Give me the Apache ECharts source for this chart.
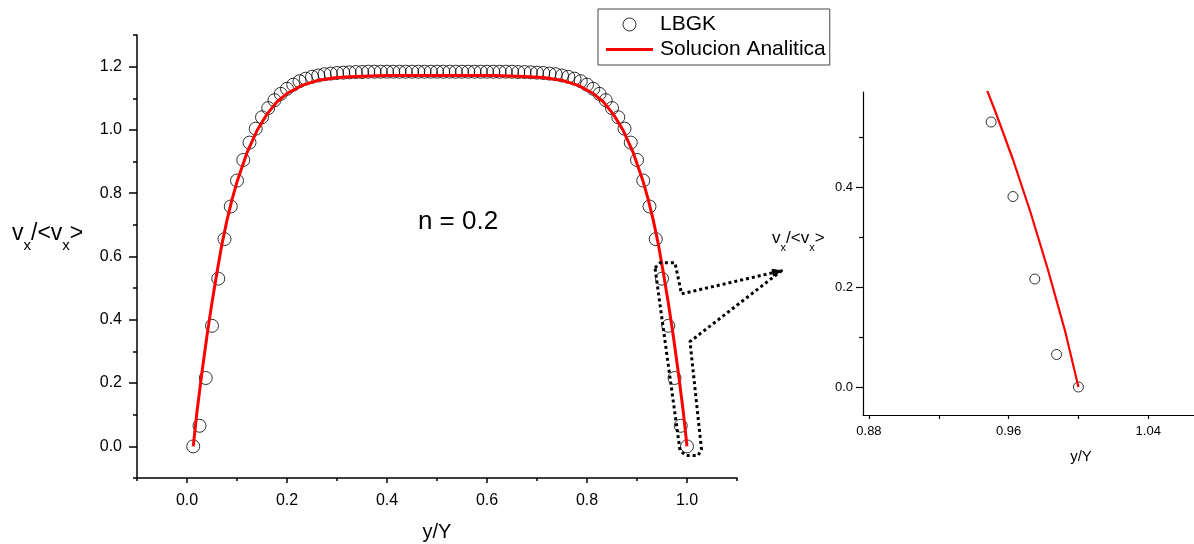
<!DOCTYPE html>
<html><head><meta charset="utf-8">
<script src="https://cdn.jsdelivr.net/npm/echarts@6/dist/echarts.min.js"></script>
<style>html,body{margin:0;padding:0;background:#fff}#c{width:1194px;height:544px}</style>
</head><body><div id="c"></div>
<script>
// ---- data ----
const lbgkX = [0.0125,0.025,0.0375,0.05,0.0625,0.075,0.0875,0.1,0.1125,0.125,0.1375,0.15,0.1625,0.175,0.1875,0.2,0.2125,0.225,0.2375,0.25,0.2625,0.275,0.2875,0.3,0.3125,0.325,0.3375,0.35,0.3625,0.375,0.3875,0.4,0.4125,0.425,0.4375,0.45,0.4625,0.475,0.4875,0.5,0.5125,0.525,0.5375,0.55,0.5625,0.575,0.5875,0.6,0.6125,0.625,0.6375,0.65,0.6625,0.675,0.6875,0.7,0.7125,0.725,0.7375,0.75,0.7625,0.775,0.7875,0.8,0.8125,0.825,0.8375,0.85,0.8625,0.875,0.8875,0.9,0.9125,0.925,0.9375,0.95,0.9625,0.975,0.9875,1.0];
const lbgkV = [0,0.065,0.216,0.381,0.530,0.655,0.758,0.840,0.905,0.960,1.004,1.040,1.069,1.094,1.114,1.130,1.143,1.154,1.162,1.168,1.172,1.176,1.178,1.180,1.181,1.182,1.183,1.183,1.184,1.184,1.184,1.184,1.184,1.184,1.184,1.184,1.184,1.184,1.184,1.184,
1.184,1.184,1.184,1.184,1.184,1.184,1.184,1.184,1.184,1.184,1.184,1.184,1.183,1.183,1.182,1.181,1.180,1.178,1.176,1.172,1.168,1.162,1.154,1.143,1.130,1.114,1.094,1.069,1.040,1.004,0.960,0.905,0.840,0.758,0.655,0.530,0.381,0.216,0.065,0];
const anaX = [0.0125,0.02,0.03,0.04,0.05,0.06,0.07,0.08,0.09,0.10,0.12,0.14,0.16,0.18,0.20,0.23,0.26,0.30,0.35,0.40,0.45,0.50625,0.5625,0.6125,0.6625,0.7125,0.7525,0.7825,0.8125,0.8325,0.8525,0.8725,0.8925,0.9125,0.9225,0.9325,0.9425,0.9525,0.9625,0.9725,0.9825,0.9925,1.0];
const anaV = [0,0.110,0.235,0.350,0.455,0.550,0.640,0.715,0.780,0.836,0.928,0.998,1.050,1.089,1.115,1.141,1.156,1.166,1.170,1.172,1.172,1.172,1.172,1.172,1.170,1.166,1.156,1.141,1.115,1.089,1.050,0.998,0.928,0.836,0.780,0.715,0.640,0.550,0.455,0.350,0.235,0.110,0];

const mainXTicks = [0,0.2,0.4,0.6,0.8,1.0];
const mainXMinor = [-0.1,0.1,0.3,0.5,0.7,0.9,1.1];
const mainYTicks = [0,0.2,0.4,0.6,0.8,1.0,1.2];
const mainYMinor = [-0.1,0.1,0.3,0.5,0.7,0.9,1.1,1.3];
const insetXTicks = [0.88,0.96,1.04];
const insetXMinor = [0.92,1.00];
const insetYTicks = [0,0.2,0.4];
const insetYMinor = [0.1,0.3,0.5];
// callout outline, in main-plot data units
const calloutPath = [[0.936,0.564],[0.946,0.580],[0.976,0.580],[0.989,0.482],[1.189,0.555],[1.006,0.331],[1.029,-0.010],[1.022,-0.029],[0.998,-0.029],[0.986,-0.013]];

const FONT = '"Liberation Sans", Arial, sans-serif';
const chart = echarts.init(document.getElementById('c'), null, {renderer:'canvas'});

function axis(o){
  return {
    type:'value', gridIndex:o.grid, min:o.min, max:o.max, position:o.pos,
    axisLine:{show:o.major, onZero:false, lineStyle:{color:'#000', width:o.lw}},
    axisTick:{show:true, inside:false, length:o.tl, customValues:o.ticks, lineStyle:{color:'#000', width:o.lw}},
    axisLabel:{show:o.major, customValues:o.ticks, margin:o.margin, color:'#000', fontSize:o.fs, fontFamily:FONT,
      formatter:v=>v.toFixed(o.dec)},
    splitLine:{show:false}, minorTick:{show:false}, splitArea:{show:false},
    name:o.name||'', nameLocation:'middle', nameGap:o.nameGap||0,
    nameTextStyle:{color:'#000', fontSize:20, fontFamily:FONT}
  };
}

const xAxes = [
  axis({grid:0,min:-0.1,max:1.1,pos:'bottom',major:true,lw:1.5,tl:5,ticks:mainXTicks,margin:15,fs:16,dec:1,name:'y/Y',nameGap:44}),
  axis({grid:0,min:-0.1,max:1.1,pos:'bottom',major:false,lw:1.5,tl:3,ticks:mainXMinor}),
  axis({grid:1,min:0.8766,max:1.0662,pos:'bottom',major:true,lw:1.2,tl:4,ticks:insetXTicks,margin:10,fs:13,dec:2}),
  axis({grid:1,min:0.8766,max:1.0662,pos:'bottom',major:false,lw:1.2,tl:4,ticks:insetXMinor})
];
const yAxes = [
  axis({grid:0,min:-0.1,max:1.3,pos:'left',major:true,lw:1.5,tl:8,ticks:mainYTicks,margin:15,fs:16,dec:1}),
  axis({grid:0,min:-0.1,max:1.3,pos:'left',major:false,lw:1.5,tl:4,ticks:mainYMinor}),
  axis({grid:1,min:-0.056,max:0.59,pos:'left',major:true,lw:1.2,tl:7,ticks:insetYTicks,margin:10,fs:13,dec:1}),
  axis({grid:1,min:-0.056,max:0.59,pos:'left',major:false,lw:1.2,tl:4,ticks:insetYMinor})
];

const lbgkData = lbgkX.map((x,i)=>[x,lbgkV[i]]);
const anaData = anaX.map((x,i)=>[x,anaV[i]]);

chart.setOption({
  animation:false,
  backgroundColor:'#fff',
  grid:[
    {left:137, top:35, width:600, height:443, containLabel:false, outerBoundsMode:'none'},
    {left:863, top:92, width:331, height:323, containLabel:false, outerBoundsMode:'none'}
  ],
  xAxis:xAxes, yAxis:yAxes,
  legend:{
    data:[
      {name:'LBGK', icon:'circle', itemStyle:{color:'rgba(255,255,255,0)', borderColor:'#000', borderWidth:1}},
      {name:'Solucion Analitica', icon:'path://M0,0H47V3H0Z', itemStyle:{color:'#ff0000', borderWidth:0}}
    ],
    orient:'vertical', left:598, top:9,
    padding:[5,4,5,8], itemGap:4, itemWidth:47, itemHeight:13, selectedMode:false, symbolKeepAspect:true,
    textStyle:{fontSize:21, color:'#000', fontFamily:FONT, padding:[0,0,0,2]},
    borderColor:'#444', borderWidth:1, borderRadius:0, backgroundColor:'#fff'
  },
  series:[
    {name:'LBGK', type:'scatter', xAxisIndex:0, yAxisIndex:0, data:lbgkData, symbol:'circle', symbolSize:13,
      itemStyle:{color:'rgba(255,255,255,0)', borderColor:'#000', borderWidth:1}, z:2, silent:true, emphasis:{disabled:true}},
    {name:'Solucion Analitica', type:'line', xAxisIndex:0, yAxisIndex:0, data:anaData, symbol:'none', showSymbol:false,
      lineStyle:{color:'#ff0000', width:3}, itemStyle:{color:'#ff0000'}, z:3, silent:true, emphasis:{disabled:true}},
    {name:'LBGK detalle', type:'scatter', xAxisIndex:2, yAxisIndex:2, data:lbgkData, symbol:'circle', symbolSize:10, clip:true,
      itemStyle:{color:'rgba(255,255,255,0)', borderColor:'#000', borderWidth:1}, z:2, silent:true, emphasis:{disabled:true}},
    {name:'Analitica detalle', type:'line', xAxisIndex:2, yAxisIndex:2, data:anaData, symbol:'none', showSymbol:false, clip:true,
      lineStyle:{color:'#ff0000', width:2.2}, z:3, silent:true, emphasis:{disabled:true}}
  ]
});

// annotations
const pts = calloutPath.map(p=>chart.convertToPixel({xAxisIndex:0, yAxisIndex:0}, p));
const tip = pts[4], from = pts[3];
const dx = tip[0]-from[0], dy = tip[1]-from[1], L = Math.hypot(dx,dy);
const ux = dx/L, uy = dy/L, px = -uy, py = ux;
const head = [tip, [tip[0]-ux*9+px*3.5, tip[1]-uy*9+py*3.5], [tip[0]-ux*9-px*3.5, tip[1]-uy*9-py*3.5]];

chart.setOption({
  graphic:[
    {type:'polygon', shape:{points:pts}, style:{fill:null, stroke:'#000', lineWidth:3, lineDash:[3,3], lineJoin:'round'}, z:10, silent:true},
    {type:'polygon', shape:{points:head}, style:{fill:'#000', stroke:'#000', lineWidth:1}, z:10, silent:true},
    {type:'text', x:458, y:222, style:{text:'n = 0.2', fontSize:26, fontFamily:FONT, fill:'#000', align:'center', verticalAlign:'middle'}, z:10},
    {type:'text', x:12, y:222, style:{text:'{v|v}{s|x}{v|/<v}{s|x}{v|>}', align:'left', verticalAlign:'top', fill:'#000',
      rich:{v:{fontSize:23, lineHeight:31, verticalAlign:'top', fontFamily:FONT, fill:'#000'},
            s:{fontSize:15, lineHeight:31, verticalAlign:'bottom', fontFamily:FONT, fill:'#000'}}}, z:10},
    {type:'text', x:772, y:230, style:{text:'{v|v}{s|x}{v|/<v}{s|x}{v|>}', align:'left', verticalAlign:'top', fill:'#000',
      rich:{v:{fontSize:17, lineHeight:23, verticalAlign:'top', fontFamily:FONT, fill:'#000'},
            s:{fontSize:11, lineHeight:23, verticalAlign:'bottom', fontFamily:FONT, fill:'#000'}}}, z:10},
    {type:'text', x:1081, y:457, style:{text:'y/Y', fontSize:15, fontFamily:FONT, fill:'#000', align:'center', verticalAlign:'middle'}, z:10}
  ]
});
</script>
</body></html>
